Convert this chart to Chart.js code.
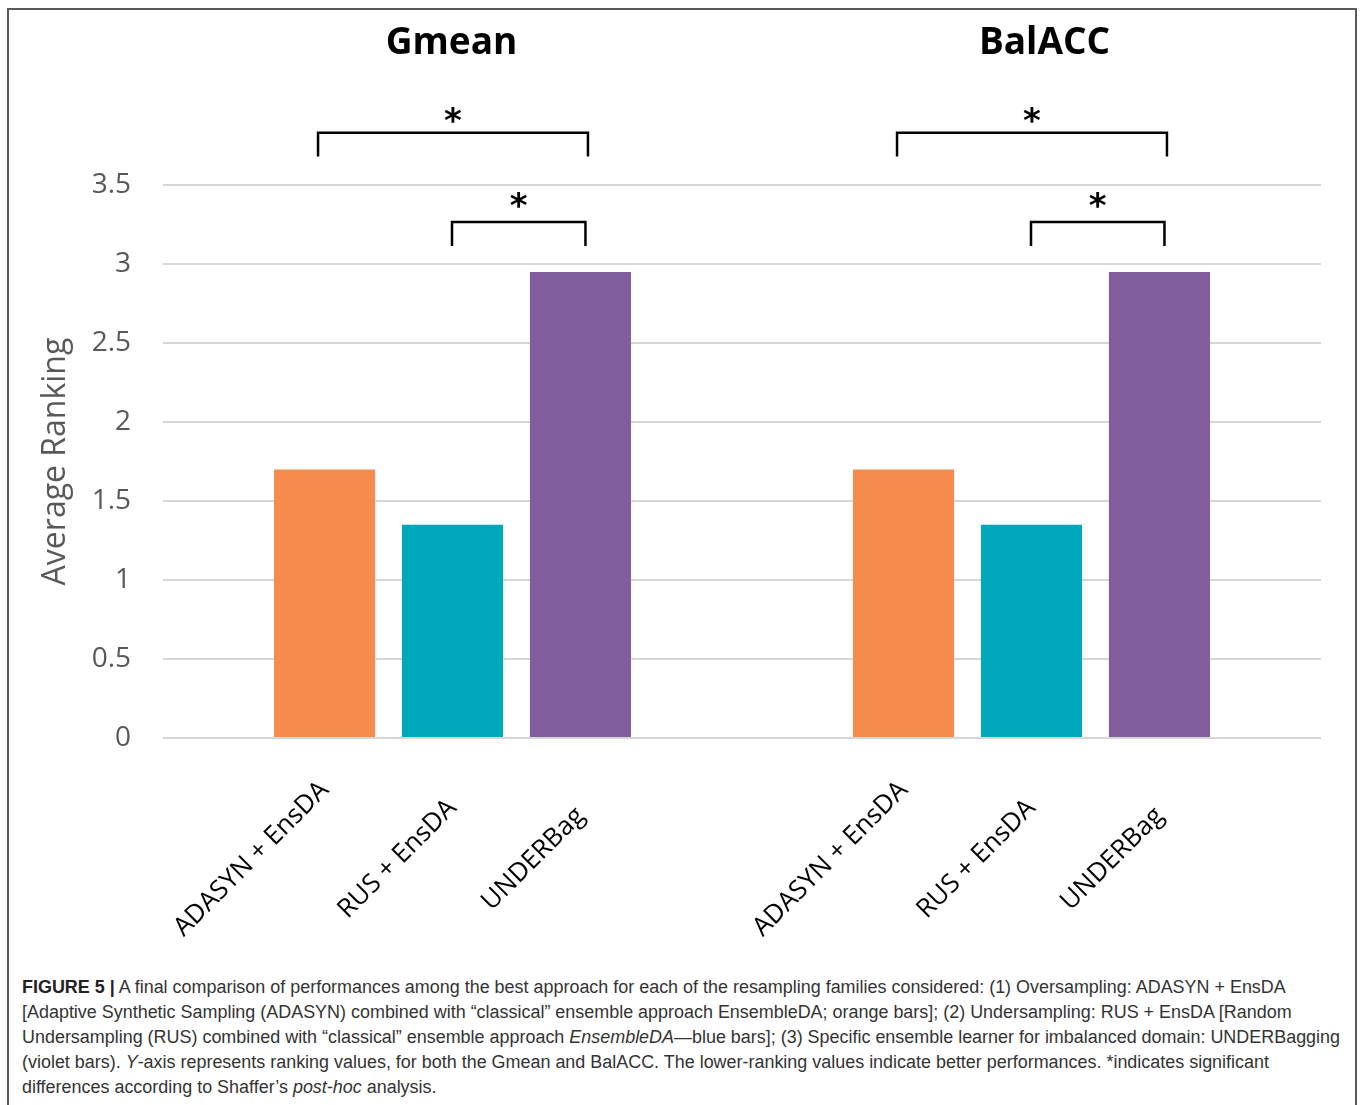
<!DOCTYPE html>
<html>
<head>
<meta charset="utf-8">
<script src="https://cdn.jsdelivr.net/npm/chart.js@4.4.1/dist/chart.umd.min.js"></script>
<style>
  html, body { margin: 0; padding: 0; background: #fff; }
  body { width: 1360px; height: 1105px; position: relative; overflow: hidden; }
  .frame {
    position: absolute; left: 7px; top: 8px; width: 1350px; height: 1200px;
    border: 2px solid #5a5a5a; border-bottom: none; box-sizing: border-box;
  }
  #chart { position: absolute; left: 0; top: 0; }
  .caption {
    position: absolute; left: 22px; top: 975px;
    font-family: "Liberation Sans", Arial, Helvetica, sans-serif;
    font-size: 17.95px; line-height: 25px; color: #333;
    white-space: nowrap;
  }
  .caption b { color: #222; }
</style>
</head>
<body>
<div class="frame"></div>
<canvas id="chart" width="1360" height="960"></canvas>
<div class="caption">
<b>FIGURE 5 |</b> A final comparison of performances among the best approach for each of the resampling families considered: (1) Oversampling: ADASYN + EnsDA<br>
[Adaptive Synthetic Sampling (ADASYN) combined with “classical” ensemble approach EnsembleDA; orange bars]; (2) Undersampling: RUS + EnsDA [Random<br>
Undersampling (RUS) combined with “classical” ensemble approach <i>EnsembleDA</i>—blue bars]; (3) Specific ensemble learner for imbalanced domain: UNDERBagging<br>
(violet bars). <i>Y</i>-axis represents ranking values, for both the Gmean and BalACC. The lower-ranking values indicate better performances. *indicates significant<br>
differences according to Shaffer’s <i>post-hoc</i> analysis.
</div>
<script>
// Metrics (groups) and resampling approaches (one dataset each)
const metrics = ['Gmean', 'BalACC'];
const approaches = ['ADASYN + EnsDA', 'RUS + EnsDA', 'UNDERBag'];
const adasynEnsDA = [1.70, 1.70];
const rusEnsDA = [1.35, 1.35];
const underBag = [2.95, 2.95];
const yTicks = [0, 0.5, 1, 1.5, 2, 2.5, 3, 3.5];
const yTitle = 'Average Ranking';

// Significant pairwise differences (dataset indices) per metric
const significantPairs = [[0, 2], [1, 2]];

const colors = ['#F58B4D', '#00A8BC', '#825D9E'];
const seriesValues = [adasynEnsDA, rusEnsDA, underBag];

const FONT = "'Open Sans', 'DejaVu Sans', sans-serif";

// Draws metric titles, rotated approach labels under each bar and the significance brackets
const annotations = {
  id: 'annotations',
  afterDatasetsDraw(chart, args, opts) {
    const { ctx, chartArea, scales } = chart;
    const y = scales.y;
    ctx.save();

    // metric titles above each group
    ctx.fillStyle = '#000';
    ctx.font = `bold ${opts.titleSize}px ${FONT}`;
    ctx.textAlign = 'center';
    ctx.textBaseline = 'middle';
    metrics.forEach((m, i) => {
      const cx = scales.x.getPixelForValue(i) + opts.titleDx[i];
      ctx.fillText(m, cx, opts.titleY);
    });

    // rotated labels below each bar
    ctx.font = `${opts.labelSize}px ${FONT}`;
    const ang = -Math.PI / 4;
    chart.data.datasets.forEach((ds, di) => {
      const meta = chart.getDatasetMeta(di);
      meta.data.forEach((bar) => {
        const text = ds.label;
        const w = ctx.measureText(text).width;
        const cx = bar.x - (w / 2) * Math.cos(Math.PI / 4);
        const cy = chartArea.bottom + opts.labelCenterOffset;
        ctx.save();
        ctx.translate(cx, cy);
        ctx.rotate(ang);
        ctx.textAlign = 'center';
        ctx.textBaseline = 'middle';
        ctx.fillText(text, 0, 0);
        ctx.restore();
      });
    });

    // brackets with asterisks
    ctx.strokeStyle = '#000';
    ctx.lineWidth = 2.5;
    ctx.lineCap = 'butt';
    ctx.lineJoin = 'miter';
    metrics.forEach((m, gi) => {
      significantPairs.forEach((pair, pi) => {
        const b = opts.brackets[pi];
        const x1 = chart.getDatasetMeta(pair[0]).data[gi].x + b.dx1;
        const x2 = chart.getDatasetMeta(pair[1]).data[gi].x + b.dx2;
        const yTop = y.getPixelForValue(b.top);
        const yLeg = y.getPixelForValue(b.leg);
        ctx.beginPath();
        ctx.moveTo(x1, yLeg);
        ctx.lineTo(x1, yTop);
        ctx.lineTo(x2, yTop);
        ctx.lineTo(x2, yLeg);
        ctx.stroke();
        ctx.font = `bold ${opts.starSize}px 'DejaVu Sans', sans-serif`;
        ctx.textAlign = 'center';
        ctx.textBaseline = 'middle';
        ctx.fillText('*', (x1 + x2) / 2, y.getPixelForValue(b.star) + opts.starShift);
      });
    });
    ctx.restore();
  }
};

new Chart(document.getElementById('chart'), {
  type: 'bar',
  data: {
    labels: metrics,
    datasets: approaches.map((name, i) => ({
      label: name,
      data: seriesValues[i],
      backgroundColor: colors[i],
      borderWidth: 0,
      categoryPercentage: 0.663,
      barPercentage: 0.79
    }))
  },
  options: {
    responsive: false,
    animation: false,
    devicePixelRatio: 1,
    layout: { padding: { top: 185, right: 39, bottom: 222, left: 0 } },
    plugins: {
      legend: { display: false },
      tooltip: { enabled: false },
      annotations: {
        titleSize: 37,
        titleY: 43,
        titleDx: [-1, 13],
        labelSize: 26,
        labelCenterOffset: 121,
        starSize: 34,
        starShift: 6,
        brackets: [
          { dx1: -6.5, dx2: 7.5, top: 3.83, leg: 3.68, star: 3.93 },
          { dx1: -0.5, dx2: 5, top: 3.266, leg: 3.114, star: 3.39 }
        ]
      }
    },
    scales: {
      x: { display: false },
      y: {
        min: 0,
        max: 3.5,
        afterFit(scale) { scale.width = 163; },
        afterBuildTicks(scale) { scale.ticks = yTicks.map(v => ({ value: v })); },
        ticks: {
          padding: 32,
          color: '#595959',
          font: { family: FONT, size: 28 },
          callback: (v) => String(v)
        },
        grid: { color: '#d6d6d6', lineWidth: 2, drawTicks: false },
        border: { display: false },
        title: {
          display: true,
          text: yTitle,
          color: '#595959',
          font: { family: FONT, size: 32 },
          padding: { top: 37, bottom: 0 }
        }
      }
    }
  },
  plugins: [annotations]
});
</script>
</body>
</html>
